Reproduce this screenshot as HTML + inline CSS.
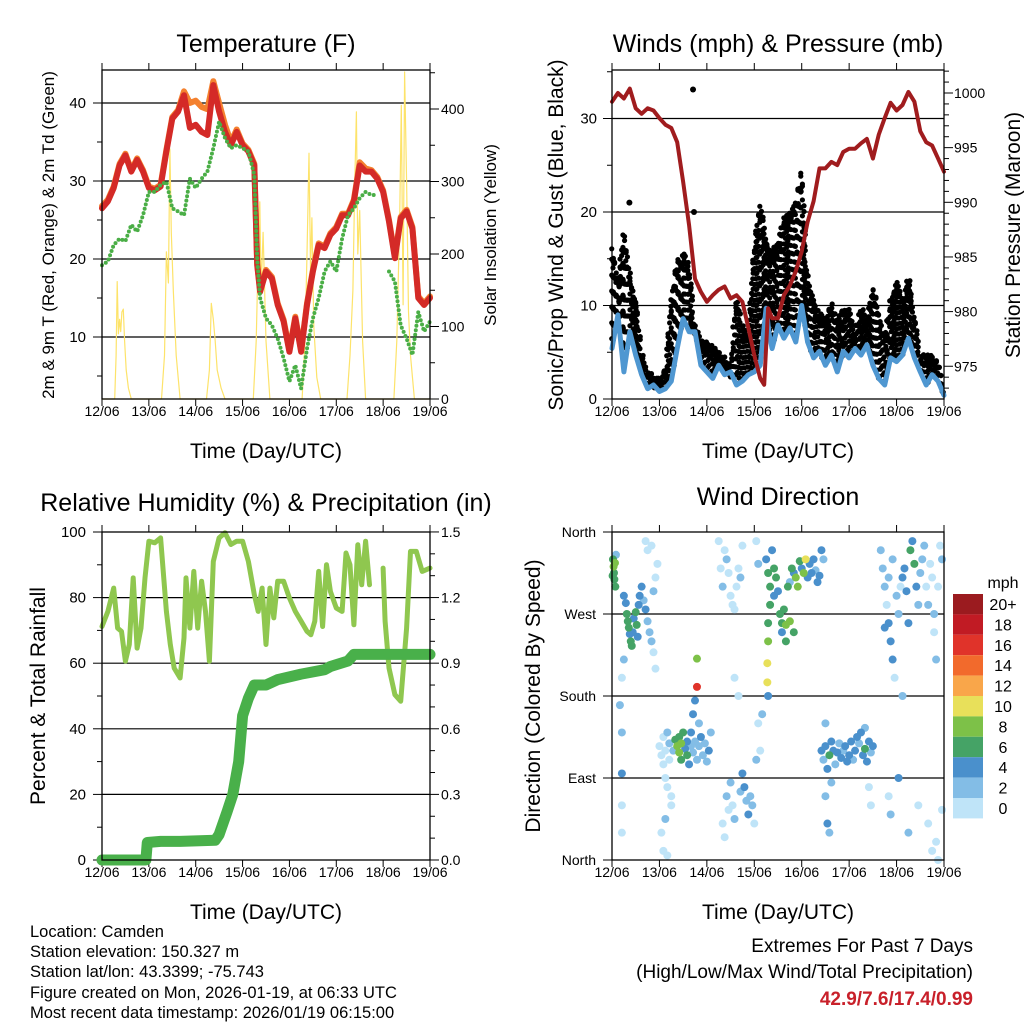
<!DOCTYPE html>
<html><head><meta charset="utf-8"><style>
html,body{margin:0;padding:0;background:#fff;}
svg{display:block;font-family:"Liberation Sans",sans-serif;}
</style></head><body>
<svg id="c" width="1024" height="1024" viewBox="0 0 1024 1024">
<g id="g"></g>
<text x="266" y="52" font-size="25" text-anchor="middle">Temperature (F)</text>
<text x="778" y="52" font-size="25" text-anchor="middle">Winds (mph) &amp; Pressure (mb)</text>
<text x="266" y="511" font-size="25" text-anchor="middle">Relative Humidity (%) &amp; Precipitation (in)</text>
<text x="778" y="505" font-size="25" text-anchor="middle">Wind Direction</text>
<text transform="translate(54,235) rotate(-90)" font-size="17" text-anchor="middle">2m &amp; 9m T (Red, Orange) &amp; 2m Td (Green)</text>
<text transform="translate(496,235) rotate(-90)" font-size="17" text-anchor="middle">Solar Insolation (Yellow)</text>
<text transform="translate(563,235) rotate(-90)" font-size="21" text-anchor="middle">Sonic/Prop Wind &amp; Gust (Blue, Black)</text>
<text transform="translate(1020,235) rotate(-90)" font-size="21" text-anchor="middle">Station Pressure (Maroon)</text>
<text transform="translate(45,696) rotate(-90)" font-size="21" text-anchor="middle">Percent &amp; Total Rainfall</text>
<text transform="translate(540,696) rotate(-90)" font-size="21" text-anchor="middle">Direction (Colored By Speed)</text>
<text x="266" y="458" font-size="21" text-anchor="middle">Time (Day/UTC)</text>
<text x="778" y="458" font-size="21" text-anchor="middle">Time (Day/UTC)</text>
<text x="266" y="919" font-size="21" text-anchor="middle">Time (Day/UTC)</text>
<text x="778" y="919" font-size="21" text-anchor="middle">Time (Day/UTC)</text>
<g font-size="16.5">
<text x="30" y="937">Location: Camden</text>
<text x="30" y="957">Station elevation: 150.327 m</text>
<text x="30" y="977">Station lat/lon: 43.3399; -75.743</text>
<text x="30" y="998">Figure created on Mon, 2026-01-19, at 06:33 UTC</text>
<text x="30" y="1018">Most recent data timestamp: 2026/01/19 06:15:00</text>
</g>
<text x="973" y="952" font-size="19" text-anchor="end">Extremes For Past 7 Days</text>
<text x="973" y="978" font-size="19" text-anchor="end">(High/Low/Max Wind/Total Precipitation)</text>
<text x="973" y="1005" font-size="19" font-weight="bold" fill="#c8202a" text-anchor="end">42.9/7.6/17.4/0.99</text>
<text x="1003" y="588" font-size="16" text-anchor="middle">mph</text>
</svg>
<script>
// ---- data (hours since 12/06 00 UTC) ----
var hrs3 = [0,3,6,9,12,15,18,21,24,27,30,33,36,39,42,45,48,51,54,57,60,63,66,69,72,75,78,79.5,81,84,87,90,93,96,99,102,105,108,111,114,117,120,123,126,129,132,135,138,141,144,147,150,153,156,159,162,165,168];
var tempRed = [26.5,27.4,29.1,32,33.3,31.2,32.7,31.2,29.1,28.8,29.3,33.8,38,38.9,41,36.8,37.2,36.3,35.9,42.3,38.9,36.3,34.6,36.3,34.6,33.8,32,19.2,15.8,18.4,17.5,14.1,12,8.1,12.4,8.1,14.1,18.4,21.8,21.4,23.1,23.9,25.6,25.6,27.4,32,31.2,31.2,30.3,28.6,24.8,20.1,25.2,26.1,23.9,15,14.1,15];
var tempOrange = [26.8,27.6,29.3,32.2,33.5,31.4,32.9,31.4,29.3,29,29.5,34,38.2,39.1,41.5,40,40.3,39.5,39.2,42.8,40,37.2,35,36.6,34.8,34,32.2,19.4,16,18.6,17.7,14.3,12.2,8.3,12.6,8.3,14.3,18.6,22,21.6,23.3,24.1,25.8,25.8,27.6,32.4,31.6,31.4,30.5,28.8,25,20.3,25.4,26.3,24.1,15.2,14.3,15.2];
var dewGreen = [19.2,19.7,21.8,22.6,22.3,24.4,23.5,25.6,28.6,28.6,29.5,29.9,26.5,26.1,25.6,30.3,29.1,30.3,31.2,34.2,37.6,35.5,34.2,34.6,34.2,33.8,30.8,20,15,12.4,11.5,9.8,7.3,4.3,6.4,3.4,8.5,12.4,15,18.4,19.7,18.4,22.6,25.6,26.5,27.8,28.6,28.2,28.2,null,18.4,17.1,11.5,9.8,7.7,13.2,10.7,12];
var solarHours = [0,6.5,7.2,7.8,8.4,9,9.6,10.2,10.9,11.6,12.4,13.5,15,30.5,32,33,34,34.8,35.5,36.5,38,40,53.5,55,56,57,58,59,61,63,77.5,79,80,80.8,81.5,82.5,84,86,102.5,104,105,106,106.8,107.5,108.5,110,112,125.5,127,128.5,129.5,130.3,131,132,133.5,135,149.5,151,152.5,153.3,154.2,155,156,157,158,160,168];
var solarVals = [0,0,60,162,90,110,93,120,124,80,40,15,0,0,60,203,160,345,230,150,60,0,0,40,132,110,80,40,15,0,0,80,200,272,150,230,80,0,0,80,200,339,180,250,100,30,0,0,60,150,300,396,200,260,80,0,0,80,250,405,130,451,300,120,60,0,0];
var windBlue = [5.4,9,2.9,7.2,4.7,2.6,1.1,1.5,0.8,1.1,1.9,5.4,8.6,7.2,7.2,3.6,2.9,2.2,3.6,2.6,2.9,1.5,1.9,2.6,2.9,3.6,9.7,7,5.4,7.9,6.5,7.6,6.1,10,6.1,4.4,5.1,3.6,4.7,2.9,5.1,4.4,5.4,4.7,5.8,3.6,2.2,1.5,4.4,4,4.7,6.5,4.4,2.9,1.5,2.6,1.9,0.4];
var gustBlack = [16.5,12.6,17.9,13.6,10.8,5.1,2.9,2.6,2.2,3.6,10.8,14.7,15.8,14.4,7.9,6.5,6.1,5.8,5.1,4.7,3.6,11.1,7.9,7.2,16.9,20.8,17.2,16,15.8,16.9,19.4,20.1,21.1,24.4,13.3,10.8,9.4,8.6,10.4,8.6,10,9.6,7.2,10.1,8.6,12.2,9.4,6.5,10.8,12.6,10.8,13.3,9,4.4,5.1,4.7,4,1.1];
var gustOutlierHours = [8.8,41,41.5];
var gustOutlierVals = [21,33.1,20];
var pressHours = [0,3,6,9,12,15,18,21,24,27,30,33,36,39,42,45,48,51,54,57,60,63,66,69,72,75,77,79,81,84,87,90,93,96,99,102,105,108,111,114,117,120,123,126,129,132,135,138,141,144,147,150,153,156,159,162,165,168];
var pressMaroon = [999.2,1000,999.5,1000.4,998.6,998.1,998.6,998.4,997.7,997.1,996.8,995.5,991.9,987.9,983,981.8,980.9,981.5,982,982.3,981.2,981.5,980.9,978.5,976,973.9,973.3,980.3,979.4,979.4,981.5,982.4,983.7,985.5,988.2,990.1,993.1,993.1,993.7,993.4,994.6,994.9,994.9,995.4,995.8,994,996.2,997.7,999.1,998.4,998.9,1000.1,999.2,996.5,995.5,995.2,994,992.8];
var rhHours = [0,3,6,8,10,12,14,16,18,20,22,24,27,30,33,35,37,40,42,43,45,47,49,51,53,55,57,60,63,66,69,72,75,78,80,82,84,86,88,90,93,96,99,102,105,107,109,111,113,115,117,120,123,125,127,129,131,133,135,137,140,144,145,147,150,153,156,158,161,164,168];
var rhVals = [71.2,75.8,82.9,70.7,69.7,60.6,65.7,86,64.6,70.7,86,97.2,96.7,98.2,75.8,65.7,58.5,55.5,67.7,86,70.7,88,70.7,85,75.8,60.6,91,98.2,99.8,96.2,97.2,97.2,91,80.9,75.8,82.9,65.7,82.9,73.8,85,85,79.9,75.8,72.8,69.7,68.7,72.8,88,71.2,90,81.9,76.8,75.8,93.6,90,71.7,96.1,83.9,97.2,83.9,null,89,72.8,58.5,50.4,48.4,70.7,94.1,94.1,88,89];
var precipHours = [0,22.5,23.2,30,40,50,58,60,64,67,70,72,75,78,84,90,102,114,117,126,129,139,144,168];
var precipVals = [0,0,0.08,0.085,0.085,0.088,0.09,0.116,0.22,0.3,0.45,0.66,0.74,0.8,0.8,0.825,0.85,0.87,0.885,0.91,0.94,0.94,0.94,0.94];
var dirHour = [0.5,0.8,1,1.2,1.5,0.3,2,1.7,6,7,7.5,8,8.5,9,9.5,10,10.5,11,12,12.5,13,13.5,14,15,16,17,18,19,20,21,22,23,18,17,20,21,22,6,5,4,5,5,5,5,24,25,26,26,27,27,28,28,29,29,30,31,32,33,34,34,35,35,36,37,38,38,39,40,40,41,42,43,44,45,46,47,48,49,50,41,42,43,43,44,25,26,27,28,30,54,55,56,57,58,59,60,61,62,63,64,65,66,62,64,56,57,58,59,60,61,62,65,66,67,68,69,70,71,72,73,74,75,76,73,74,78,79,80,80,79,79,78.6,78.6,79,81,82,82,83,84,85,86,86,87,88,89,90,91,92,93,94,95,96,97,98,99,100,101,102,103,104,105,106,107,88,90,92,106,107,108,109,110,111,112,113,114,115,116,117,118,119,120,121,122,123,124,125,126,127,128,129,130,131,132,108,109,110,111,108,128,130,131,136,137,138,139,140,141,142,138,140,142,144,145,146,147,148,149,150,151,152,153,154,155,156,157,158,159,160,161,162,163,164,165,166,167,140,141,145,150,155,160,162,164,165,167,163,143,147];
var dirDeg = [330,322,315,308,326,312,335,300,290,282,270,262,255,248,240,235,250,265,272,258,245,280,290,300,285,275,262,250,240,295,310,325,340,350,345,228,210,220,200,170,140,95,60,30,125,115,135,105,120,90,80,140,128,110,70,120,132,125,118,135,110,128,140,122,115,130,105,125,140,118,130,110,125,135,115,128,108,120,140,160,175,190,221,150,30,10,45,5,60,350,320,300,340,330,315,290,280,275,300,320,310,345,200,180,40,25,70,55,85,60,45,75,95,80,65,50,70,60,40,110,150,120,160,350,325,330,315,300,280,260,240,216,195,180,340,320,290,310,295,270,260,250,275,240,300,305,320,315,310,300,328,320,315,330,310,325,315,330,318,305,312,340,330,258,262,250,120,110,125,100,115,130,120,105,118,128,112,120,125,108,115,130,110,120,135,128,140,115,122,108,130,118,125,70,40,30,85,150,145,80,60,340,320,300,280,260,240,220,255,310,330,290,270,300,310,320,295,260,340,350,325,300,280,315,330,345,300,280,325,310,270,220,300,345,330,70,50,90,30,60,40,10,20,0,55,250,200,180];
var dirSpeed = [7,8,7,6,8,6,2,6,4,4,6,6,6,4,6,6,4,4,6,6,4,4,4,4,2,4,2,2,2,2,0,0,0,0,0,0,0,2,0,2,2,4,0,0,0,0,0,0,0,0,0,2,2,0,0,2,6,8,8,6,6,8,6,4,6,4,4,2,4,2,2,2,2,4,2,2,2,4,2,4,4,16,8,2,0,0,2,0,0,0,0,2,0,2,0,0,0,0,0,0,2,0,0,0,0,0,2,0,2,0,2,2,4,4,2,4,2,2,0,2,0,0,2,0,2,4,6,6,6,6,8,10,10,4,4,6,4,6,4,6,6,4,6,6,6,2,6,4,8,8,6,4,8,10,4,4,4,4,2,4,4,4,2,8,8,6,4,2,4,4,6,4,4,2,4,2,4,2,4,4,4,4,2,4,4,2,4,4,6,4,4,2,4,2,4,2,2,2,2,0,0,2,2,2,0,4,4,4,4,2,2,2,2,0,4,4,4,4,6,4,6,4,2,2,2,2,0,2,0,0,2,2,0,0,2,0,2,4,2,0,0,0,0,0,0,0,0,2,0,0];
var cbLabels = ["20+","18","16","14","12","10","8","6","4","2","0"];
var cbColors = ["#9b1b1f","#c11b24","#e0332a","#f26a2c","#f9a64a","#e8e05a","#7dc148","#45a366","#4a90cc","#83bde6","#bfe4f8"];
var dayLabels = ["12/06","13/06","14/06","15/06","16/06","17/06","18/06","19/06"];
var tempTicks = [10,20,30,40];
var tempMinor = [5,15,25,35];
var solarTicks = [0,100,200,300,400];
var solarMinor = [50,150,250,350,450];
var windTicks = [0,10,20,30];
var windMinor = [5,15,25,35];
var pressTicks = [975,980,985,990,995,1000];
var pressMinor = [973,974,976,977,978,979,981,982,983,984,986,987,988,989,991,992,993,994,996,997,998,999,1001,1002];
var rhTicks = [0,20,40,60,80,100];
var rhMinor = [10,30,50,70,90];
var prTicks = [0,0.3,0.6,0.9,1.2,1.5];
var prMinor = [0.1,0.2,0.4,0.5,0.7,0.8,1.0,1.1,1.3,1.4];
var dirTicks = [0,90,180,270,360];
var dirNames = ["North","East","South","West","North"];

// ---- axes ----
var NS="http://www.w3.org/2000/svg", G=document.getElementById('g');
var xA=function(h){return 102+h*328/168;}, xB=function(h){return 612+h*332/168;};
var yT=function(v){return 399-(v-2.05)*7.8;}, yS=function(v){return 399-v*0.725;};
var yW=function(v){return 399-v*9.35;}, yP=function(p){return 93+(1000-p)*10.93;};
var yR=function(v){return 860-v*3.28;}, yPr=function(v){return 860-v*218.7;};
var yD=function(d){return 860-d*328/360;};
function mk(tag,at){var e=document.createElementNS(NS,tag);for(var k in at)e.setAttribute(k,at[k]);G.appendChild(e);return e;}
function pathD(hs,vs,fx,fy){var d='',pen=false;for(var i=0;i<hs.length;i++){if(vs[i]===null){pen=false;continue;}d+=(pen?'L':'M')+fx(hs[i]).toFixed(1)+' '+fy(vs[i]).toFixed(1);pen=true;}return d;}
function interp(hs,vs,h){for(var i=0;i<hs.length-1;i++){if(h>=hs[i]&&h<=hs[i+1]){var f=(h-hs[i])/(hs[i+1]-hs[i]);return vs[i]+(vs[i+1]-vs[i])*f;}}return vs[vs.length-1];}
function txt(x,y,s,anchor,size,name){var t=mk('text',{x:x,y:y,'font-size':size,'text-anchor':anchor});t.textContent=s;

return t;}
function tick(x1,y1,x2,y2,name){var l=mk('line',{x1:x1,y1:y1,x2:x2,y2:y2,stroke:'#000','stroke-width':1});

}
function frame(x0,y0,x1,y1,gridY,ticksL,minL,ticksR,minR,fx,name){
  gridY.forEach(function(y){var l=mk('line',{x1:x0,x2:x1,y1:y,y2:y,stroke:'#000','stroke-width':1.2});
  
  });
  for(var d=0;d<=7;d++){var x=fx(d*24);
    tick(x,y1,x,y1+7,name+'-x-tick');
    tick(x,y0,x,y0-7,name+'-x-tick-top');
    txt(x,y1+17,dayLabels[d],'middle',14,name+'-x-tick-label');}
  ticksL.forEach(function(y){tick(x0-9,y,x0,y,name+'-y-tick');});
  minL.forEach(function(y){if(y>y0&&y<y1)tick(x0-5,y,x0,y,name+'-y-minor-tick');});
  ticksR.forEach(function(y){tick(x1,y,x1+9,y,name+'-y2-tick');});
  minR.forEach(function(y){if(y>y0&&y<y1)tick(x1,y,x1+5,y,name+'-y2-minor-tick');});
}
function box(x0,y0,x1,y1,name){var r=mk('rect',{x:x0,y:y0,width:x1-x0,height:y1-y0,fill:'none',stroke:'#000','stroke-width':1.3});

}
function line(d,col,w,name,extra){var p=mk('path',{d:d,fill:'none',stroke:col,'stroke-width':w,'stroke-linejoin':'round','stroke-linecap':'round'});if(extra)for(var k in extra)p.setAttribute(k,extra[k]);

return p;}

// ---- Panel 1: temperature ----
frame(102,70,430,399,tempTicks.map(yT),tempTicks.map(yT),tempMinor.map(yT),solarTicks.map(yS),solarMinor.map(yS),xA,'temperature');
tempTicks.forEach(function(v){txt(86,yT(v)+5,String(v),'end',15,'temperature-y-tick-label');});
solarTicks.forEach(function(v){txt(441,yS(v)+5,String(v),'start',14,'solar-y-tick-label');});
line(pathD(solarHours,solarVals,xA,yS),'#fde36a',1.2,'solar-insolation-line');
line(pathD(hrs3,tempOrange,xA,yT),'#f4812f',6,'temperature-9m-line');
line(pathD(hrs3,tempRed,xA,yT),'#d42a27',6,'temperature-2m-line');
line(pathD(hrs3,dewGreen,xA,yT),'#4aae46',4,'dewpoint-line',{'stroke-dasharray':'0 4.5'});
box(102,70,430,399,'temperature');

// ---- Panel 2: winds & pressure ----
frame(612,70,944,399,[10,20,30].map(yW),windTicks.map(yW),windMinor.map(yW),pressTicks.map(yP),pressMinor.map(yP),xB,'winds');
windTicks.forEach(function(v){txt(597,yW(v)+5,String(v),'end',15,'wind-y-tick-label');});
pressTicks.forEach(function(v){txt(954,yP(v)+5,String(v),'start',14,'pressure-y-tick-label');});
var k=0;
for(var h=0;h<=168;h+=0.45){var w=interp(hrs3,windBlue,h),gv=interp(hrs3,gustBlack,h);
  k++;var ph=((k*0.618)%1)*1.7, dx=((k*0.37)%1-0.5)*2;
  for(var v=w+ph;v<=gv;v+=1.7){var c=mk('circle',{cx:xB(h)+dx,cy:yW(v),r:2.6,fill:'#000'});
  
  }
  var ct=mk('circle',{cx:xB(h)+dx,cy:yW(gv-((k*0.29)%1)*1.5),r:2.6,fill:'#000'});
  
  }
gustOutlierHours.forEach(function(h,i){var c=mk('circle',{cx:xB(h),cy:yW(gustOutlierVals[i]),r:3,fill:'#000'});

});
line(pathD(hrs3,windBlue,xB,yW),'#4f97d1',5,'sonic-wind-line');
line(pathD(pressHours,pressMaroon,xB,yP),'#a01c1e',4,'pressure-line');
box(612,70,944,399,'winds');

// ---- Panel 3: RH & precip ----
frame(102,532,430,860,[20,40,60,80].map(yR),rhTicks.map(yR),rhMinor.map(yR),prTicks.map(yPr),prMinor.map(yPr),xA,'humidity');
rhTicks.forEach(function(v){txt(86,yR(v)+5,String(v),'end',15,'rh-y-tick-label');});
prTicks.forEach(function(v){txt(441,yPr(v)+5,v.toFixed(1),'start',14,'precip-y-tick-label');});
line(pathD(rhHours,rhVals,xA,yR),'#8fc74f',5,'relative-humidity-line');
line(pathD(precipHours,precipVals,xA,yPr),'#49b04a',11,'precipitation-line');
box(102,532,430,860,'humidity');

// ---- Panel 4: wind direction ----
frame(612,532,944,860,[90,180,270].map(yD),dirTicks.map(yD),[],[],[],xB,'direction');
dirTicks.forEach(function(d,i){txt(596,yD(d)+5,dirNames[i],'end',14,'direction-y-tick-label');});
function spdColor(s){var idx=Math.min(10,Math.floor(s/2));return cbColors[10-idx];}
var order=dirHour.map(function(_,i){return i;}).sort(function(a,b){return dirSpeed[a]-dirSpeed[b];});
order.forEach(function(i){var c=mk('circle',{cx:xB(dirHour[i]),cy:yD(dirDeg[i]),r:4,fill:spdColor(dirSpeed[i])});

});
box(612,532,944,860,'direction');

// ---- colorbar ----
cbColors.forEach(function(col,i){var r=mk('rect',{x:953,y:594+i*20.4,width:30,height:20.4,fill:col});


txt(1003,594+i*20.4+16,cbLabels[i],'middle',16,'colorbar-label');});
</script>
</body></html>
